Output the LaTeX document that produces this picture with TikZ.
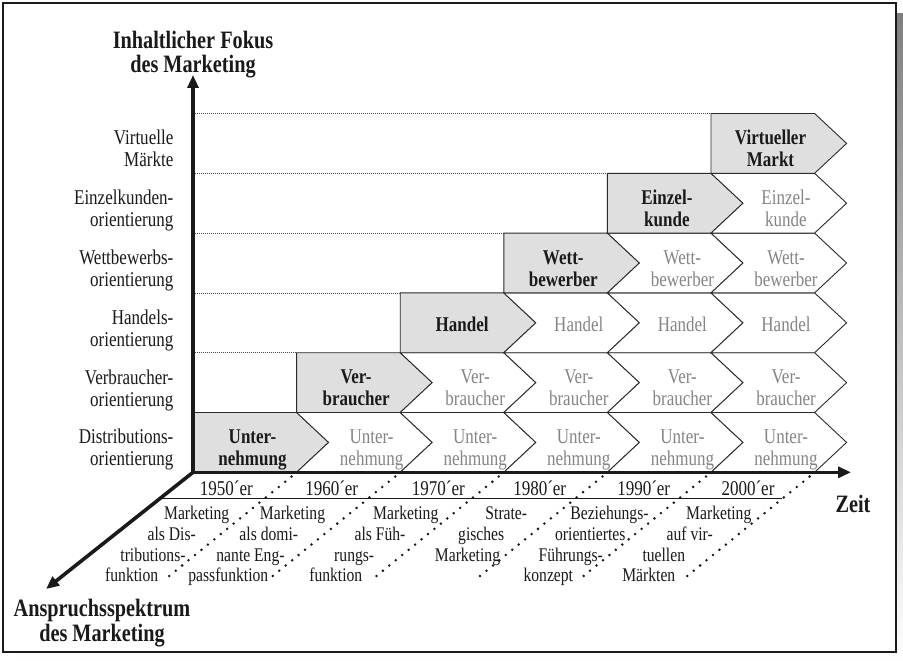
\documentclass[tikz,border=0pt]{standalone}
\usepackage{fontspec}
\setmainfont{Liberation Serif}[FakeStretch=0.81]
\usetikzlibrary{arrows.meta}
\definecolor{txt}{HTML}{1A1A1A}
\definecolor{graytxt}{HTML}{858585}
\definecolor{chevfill}{HTML}{DFDFDF}
\definecolor{edgec}{HTML}{2B2B2B}
\definecolor{shade}{HTML}{7D7D7D}
\definecolor{dotc}{HTML}{4A4A4A}
\newcommand\twol[3][c]{\begin{tabular}[t]{@{}#1@{}}#2\\#3\end{tabular}}
\newcommand\chevshape[4]{% left x, top y, style, notch depth
  \filldraw[#3] (#1,#2) -- ++(103.6,0) -- ++(32,29.9) -- ++(-32,29.9) -- ++(-103.6,0) -- ++(#4,-29.9) -- cycle;}
\tikzset{axtip/.tip={Triangle[length=13pt,width=11pt]}}
\begin{document}
\begin{tikzpicture}[x=1pt,y=-1pt,
  lab/.style={font=\fontsize{21}{22}\selectfont, inner sep=0pt, text=txt},
  graychev/.style={fill=chevfill, draw=edgec, line width=0.9pt, line join=miter},
  whitechev/.style={fill=white, draw=edgec, line width=0.9pt, line join=miter},
  boldtxt/.style={font=\bfseries\fontsize{21}{22}\selectfont, inner sep=0pt, text=txt, anchor=base},
  lighttxt/.style={font=\fontsize{21}{22}\selectfont, inner sep=0pt, text=graytxt, anchor=base},
  desc/.style={font=\fontsize{19.3}{21}\selectfont, inner sep=0pt, text=txt, anchor=base},
  title/.style={font=\bfseries\fontsize{25}{23.4}\selectfont, inner sep=0pt, text=txt, anchor=base},
  rowline/.style={draw=dotc, line width=0.8pt, dash pattern=on 1pt off 1pt},
  dotline/.style={draw=txt, line width=2.8pt, line cap=round, dash pattern=on 0pt off 8.3pt},
  axis/.style={draw=txt, line width=3.6pt, line join=miter}]
\useasboundingbox (0,0) rectangle (903,661);
% frame with shadow
\fill[shade] (12,14) rectangle (903,661);
\filldraw[fill=white, draw=txt, line width=1.3pt] (3,3) rectangle (896,652);

% dotted row lines
\foreach \r in {1,...,5}{
  \pgfmathsetmacro\yt{472.3-59.8*(\r+1)}
  \pgfmathsetmacro\xe{193+103.6*\r}
  \draw[rowline] (193,\yt) -- (\xe,\yt);
}
\draw[rowline] (193,113.5) -- (711,113.5);

% chevrons
\foreach \r in {0,...,5}{
  \pgfmathsetmacro\yt{472.3-59.8*(\r+1)}
  \foreach \c in {\r,...,5}{
    \pgfmathsetmacro\xl{193+103.6*\c}
    \ifnum\c=\r
      \chevshape{\xl}{\yt}{graychev}{0}
    \else
      \chevshape{\xl}{\yt}{whitechev}{32}
    \fi
  }
}

% chevron texts (two-line rows)
\foreach \r/\ta/\tb in {0/Unter-/nehmung, 1/Ver-/braucher, 3/Wett-/bewerber, 4/Einzel-/kunde, 5/Virtueller/Markt}{
  \pgfmathsetmacro\yb{472.3-59.8*(\r+1)+29.9+1}
  \foreach \c in {\r,...,5}{
    \ifnum\c=\r
      \pgfmathsetmacro\xc{193+103.6*\c+59.5}
      \node[boldtxt] (t-\r-\c) at (\xc,\yb) {\twol{\ta}{\tb}};
    \else
      \pgfmathsetmacro\xc{193+103.6*\c+75}
      \node[lighttxt] (t-\r-\c) at (\xc,\yb) {\twol{\ta}{\tb}};
    \fi
  }
}
% Handel row
\foreach \c in {2,...,5}{
  \pgfmathsetmacro\yb{472.3-59.8*3+29.9+8.7}
  \ifnum\c=2
    \pgfmathsetmacro\xc{193+103.6*\c+62}
    \node[boldtxt] (t-2-\c) at (\xc,\yb) {Handel};
  \else
    \pgfmathsetmacro\xc{193+103.6*\c+75}
    \node[lighttxt] (t-2-\c) at (\xc,\yb) {Handel};
  \fi
}

% row labels
\foreach \r/\ta/\tb in {0/Distributions-/orientierung, 1/Verbraucher-/orientierung, 2/Handels-/orientierung, 3/Wettbewerbs-/orientierung, 4/Einzelkunden-/orientierung, 5/Virtuelle/Märkte}{
  \pgfmathsetmacro\yb{472.3-59.8*(\r+1)+29.9+1.5}
  \node[lab, anchor=base east] (l-\r) at (173.5,\yb) {\twol[r]{\ta}{\tb}};
}

% years line and labels
\coordinate (yl1) at (160,498.3);
\coordinate (yl2) at (781.7,498.3);
\draw[draw=txt, line width=1.2pt] (yl1) -- (yl2);
\foreach \n/\x in {1950/226.3, 1960/331.7, 1970/438.3, 1980/539.7, 1990/643.7, 2000/748}{
  \node[lab, anchor=base] (y\n) at (\x,495) {\n´er};
}

% dotted diagonal lines
\foreach \c in {1,...,6}{
  \pgfmathsetmacro\bx{193+103.6*\c}
  \coordinate (dt\c) at (\bx-5,476.5);
  \coordinate (db\c) at (\bx-128,576.5);
  \draw[dotline] (dt\c) -- (db\c);
}

% descriptions
\foreach \n/\x/\y/\t in {
  a1/196.7/519.3/Marketing, a2/171.7/540.5/als Dis-, a3/153/561.5/tributions-, a4/131.7/581.7/funktion,
  b1/292.5/519.3/Marketing, b2/268.8/540.5/als domi-, b3/250.5/561.5/nante Eng-, b4/228.3/581.7/passfunktion,
  c1/405.8/519.3/Marketing, c2/380/540.5/als Füh-, c3/354.2/561.5/rungs-, c4/335.8/581.7/funktion,
  e1/506.3/519.3/Strate-, e2/481.2/540.5/gisches, e3/467.5/561.5/Marketing,
  f1/609.5/519.3/Beziehungs-, f2/590.3/540.5/orientiertes, f3/570.8/561.5/Führungs-, f4/548.3/581.7/konzept,
  g1/718.8/519.3/Marketing, g2/689.7/540.5/auf vir-, g3/663.8/561.5/tuellen, g4/648.8/581.7/Märkten}{
  \node[desc] (d\n) at (\x,\y) {\t};
}

% axes
\coordinate (O) at (193,472.3);
\coordinate (ytip) at (193,75);
\coordinate (xtip) at (851,472.3);
\coordinate (dtip) at (46,589);
\draw[axis, {axtip}-{axtip}] (ytip) -- (O) -- (xtip);
\draw[axis, -{axtip}] (O) -- (dtip);

% axis titles
\node[title] (ty) at (193,48.3) {\twol{Inhaltlicher Fokus}{des Marketing}};
\node[title] (td) at (102,616.7) {\twol{Anspruchsspektrum}{des Marketing}};
\node[title] (tx) at (853,512.7) {Zeit};
\end{tikzpicture}
\end{document}
